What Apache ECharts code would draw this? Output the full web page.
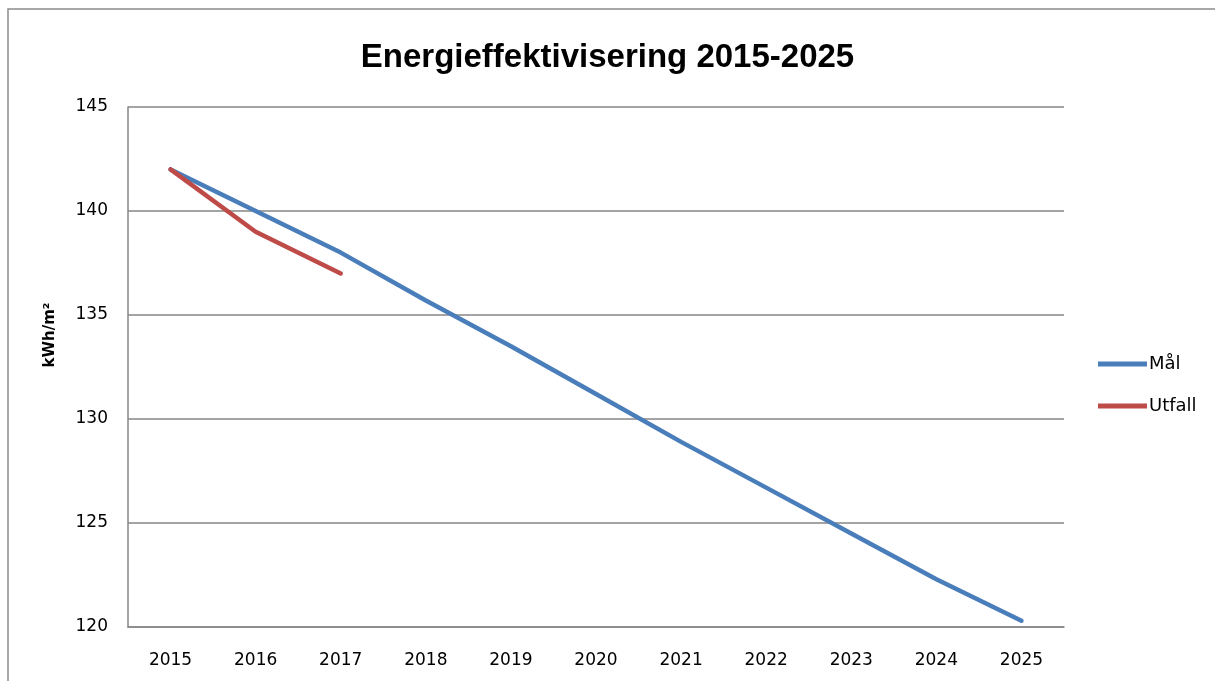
<!DOCTYPE html>
<html>
<head>
<meta charset="utf-8">
<script src="https://cdn.jsdelivr.net/npm/echarts@6/dist/echarts.min.js"></script>
<style>
  html, body { margin: 0; padding: 0; background: #fff; }
  #chart { width: 1215px; height: 681px; }
</style>
</head>
<body>
<div id="chart"></div>
<script>
const years = ['2015', '2016', '2017', '2018', '2019', '2020', '2021', '2022', '2023', '2024', '2025']
const malValues = [142, 140, 138, 135.7, 133.5, 131.2, 128.9, 126.7, 124.5, 122.3, 120.3]
const utfallValues = [142, 139, 137]
const yTicks = [120, 125, 130, 135, 140, 145]

let chart = echarts.init(document.getElementById('chart'))

const labelFont = 'DejaVu Sans'

let option = {
  animation: false,
  title: {
    text: 'Energieffektivisering 2015-2025',
    left: 'center',
    top: 36,
    textStyle: {
      fontFamily: 'Liberation Sans',
      fontWeight: 'bold',
      fontSize: 33,
      color: '#000'
    }
  },
  graphic: [
    {
      type: 'rect',
      shape: { x: 8, y: 9, width: 1240, height: 700 },
      style: { fill: 'none', stroke: '#8c8c8c', lineWidth: 1.5 },
      silent: true
    },
    {
      type: 'text',
      x: 50,
      y: 335,
      rotation: Math.PI / 2,
      style: {
        text: 'kWh/m²',
        fontFamily: labelFont,
        fontWeight: 'bold',
        fontSize: 15,
        fill: '#000',
        align: 'center',
        verticalAlign: 'middle'
      }
    }
  ],
  legend: {
    orient: 'vertical',
    left: 1093,
    top: 350,
    itemWidth: 49,
    itemHeight: 5,
    itemGap: 24,
    icon: 'rect',
    textStyle: {
      fontFamily: labelFont,
      fontSize: 18,
      color: '#000',
      padding: [0, 0, 0, -3]
    },
    data: ['Mål', 'Utfall']
  },
  grid: {
    left: 128,
    right: 151,
    top: 107,
    bottom: 54
  },
  xAxis: {
    type: 'category',
    data: years,
    boundaryGap: true,
    axisLine: { lineStyle: { color: '#868686', width: 1.5 } },
    axisTick: { show: false },
    axisLabel: {
      fontFamily: labelFont,
      fontSize: 17,
      color: '#000',
      margin: 25
    }
  },
  yAxis: {
    type: 'value',
    min: yTicks[0],
    max: yTicks[yTicks.length - 1],
    interval: 5,
    axisLine: { show: true, lineStyle: { color: '#868686', width: 1.5 } },
    axisTick: { show: false },
    splitLine: { lineStyle: { color: '#868686', width: 1.5 } },
    axisLabel: {
      fontFamily: labelFont,
      fontSize: 17,
      color: '#000',
      margin: 20
    }
  },
  series: [
    {
      name: 'Mål',
      type: 'line',
      data: malValues,
      symbol: 'none',
      lineStyle: { color: '#4a7ebb', width: 4.5, cap: 'round' },
      itemStyle: { color: '#4a7ebb' },
      z: 2
    },
    {
      name: 'Utfall',
      type: 'line',
      data: utfallValues,
      symbol: 'none',
      lineStyle: { color: '#be4b48', width: 4.5, cap: 'round' },
      itemStyle: { color: '#be4b48' },
      z: 3
    }
  ]
}

chart.setOption(option)
</script>
</body>
</html>
